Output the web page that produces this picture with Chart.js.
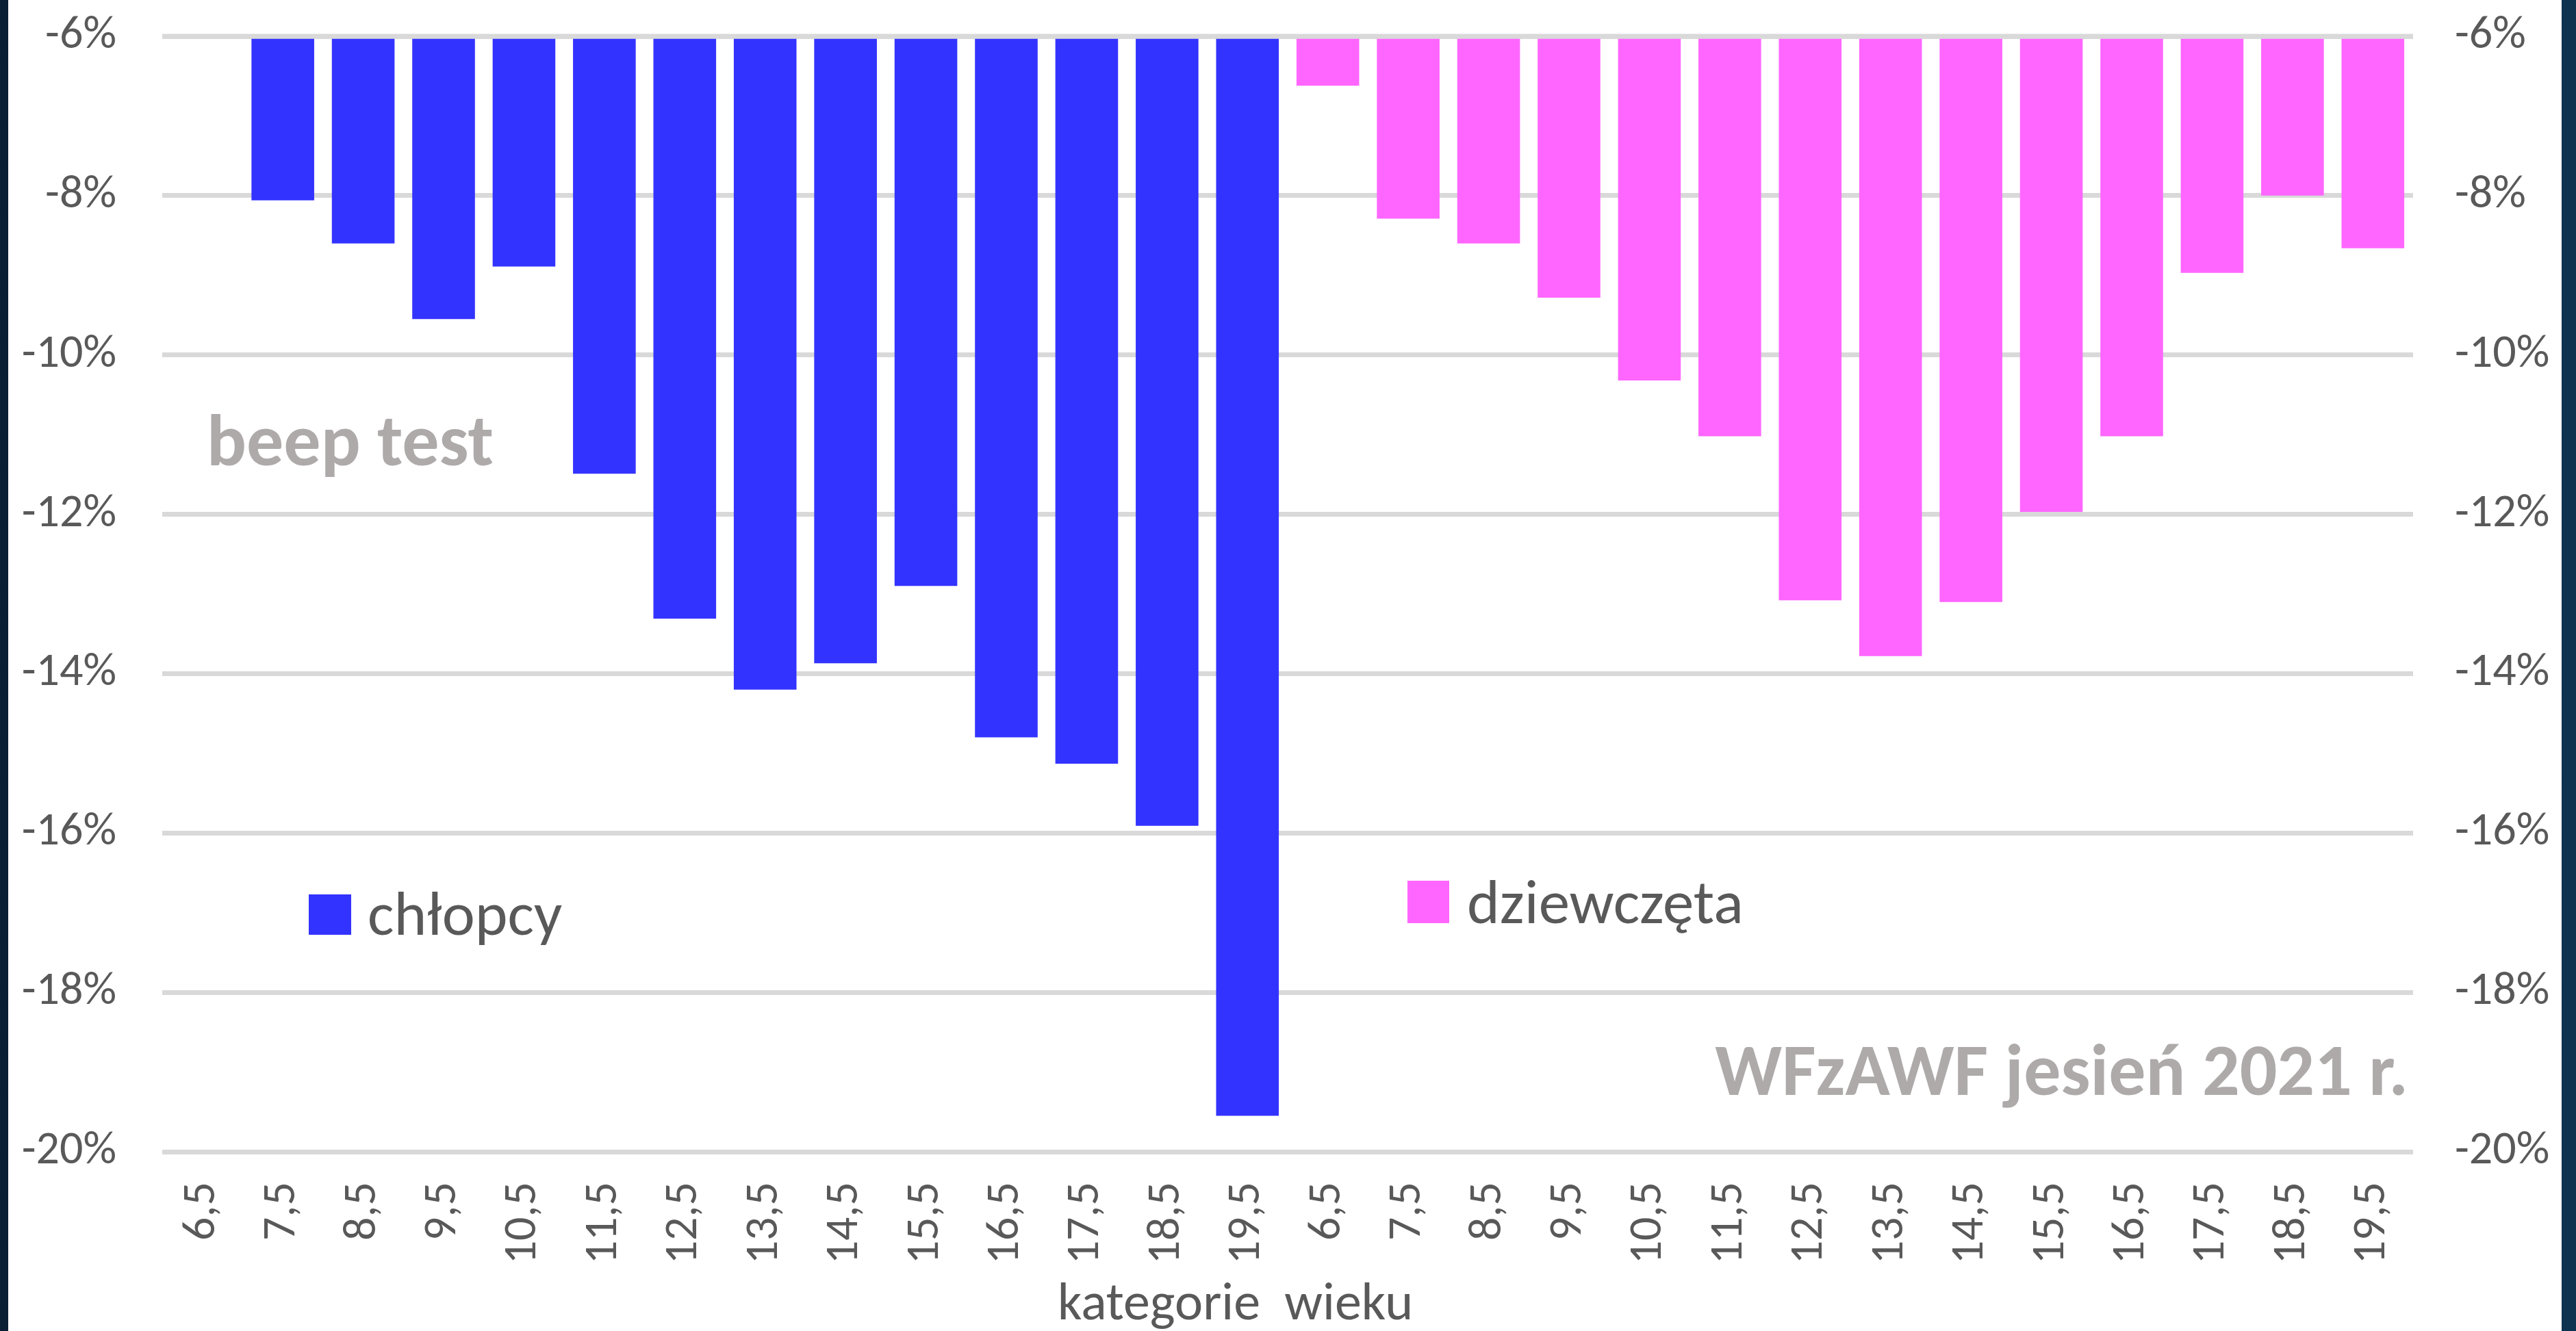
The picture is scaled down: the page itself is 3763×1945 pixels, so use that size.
<!DOCTYPE html>
<html>
<head>
<meta charset="utf-8">
<script src="https://cdn.jsdelivr.net/npm/chart.js@4.4.1/dist/chart.umd.min.js"></script>
<style>
  html, body { margin: 0; padding: 0; }
  body {
    width: 3763px; height: 1945px; overflow: hidden;
    background: linear-gradient(90deg, #0a1f33 0%, #0d3350 100%);
  }
  #wrap {
    position: absolute; left: 12px; top: 0;
    width: 3730px; height: 1945px; background: #fff;
  }
</style>
</head>
<body>
<div id="wrap"><canvas id="beepChart"></canvas></div>
<script>
// beep test — zmiana wyniku wg kategorii wieku (WFzAWF jesień 2021)

const ages = ['6,5', '7,5', '8,5', '9,5', '10,5', '11,5', '12,5', '13,5', '14,5', '15,5', '16,5', '17,5', '18,5', '19,5'];

// chłopcy: brak słupka dla 6,5
const boys  = [null, -8.06, -8.60, -9.55, -8.89, -11.49, -13.31, -14.20, -13.87, -12.90, -14.80, -15.13, -15.91, -19.55];
const girls = [-6.62, -8.29, -8.60, -9.28, -10.32, -11.02, -13.08, -13.78, -13.10, -11.97, -11.02, -8.97, -8.00, -8.66];

const yTicks = [-20, -18, -16, -14, -12, -10, -8, -6];

const COLORS = {
  boys:  '#3333ff',
  girls: '#ff66ff',
  grid:  '#d9d9d9',
  text:  '#595959',
  note:  '#aeaaaa',
};

const FONT = "Carlito, Lato, 'Open Sans', sans-serif";

const labels = ages.concat(ages);
const boysData  = boys.concat(girls.map(() => null));
const girlsData = boys.map(() => null).concat(girls);

// legenda + napisy w obszarze wykresu
const overlayPlugin = {
  id: 'overlay',
  afterDatasetsDraw(chart) {
    const { ctx, chartArea, scales } = chart;
    ctx.save();

    // górna linia osi przykrywa początek słupków
    const yTop = scales.y.getPixelForValue(-6);
    ctx.fillStyle = COLORS.grid;
    ctx.fillRect(chartArea.left, yTop - 3.5, chartArea.right - chartArea.left, 7);

    // legenda
    ctx.fillStyle = COLORS.boys;
    ctx.fillRect(439, 1307, 62, 59);
    ctx.fillStyle = COLORS.girls;
    ctx.fillRect(2044, 1287, 61, 62);

    ctx.fillStyle = COLORS.text;
    ctx.textAlign = 'left';
    ctx.textBaseline = 'alphabetic';
    ctx.font = `91px ${FONT}`;
    ctx.fillText('chłopcy', 525, 1366);
    ctx.fillText('dziewczęta', 2131, 1349);

    // tytuł osi
    ctx.font = `78px ${FONT}`;
    ctx.fillText('kategorie  wieku', 1533, 1928);

    // napisy
    ctx.fillStyle = COLORS.note;
    ctx.font = `bold 108px ${FONT}`;
    ctx.fillText('beep test', 290, 680);
    ctx.textAlign = 'right';
    ctx.fillText('WFzAWF jesień 2021 r.', 3506, 1600);

    ctx.restore();
  }
};

const tickFont = { family: FONT, size: 68 };

// stała szerokość osi, bez automatycznego marginesu na etykiety
const fixWidth = w => s => {
  s.width = w;
  s.paddingTop = 0;
  s.paddingBottom = 0;
};

new Chart(document.getElementById('beepChart').getContext('2d'), {
  type: 'bar',
  data: {
    labels,
    datasets: [
      {
        label: 'chłopcy',
        data: boysData,
        backgroundColor: COLORS.boys,
        base: -6,
        borderWidth: 0,
      },
      {
        label: 'dziewczęta',
        data: girlsData,
        backgroundColor: COLORS.girls,
        base: -6,
        borderWidth: 0,
      }
    ]
  },
  options: {
    responsive: true,
    maintainAspectRatio: false,
    animation: false,
    layout: { padding: { top: 53, left: 0, right: 0, bottom: 0 } },
    datasets: {
      bar: { grouped: false, categoryPercentage: 1, barPercentage: 0.78 }
    },
    plugins: {
      legend: { display: false },
      tooltip: { enabled: false },
    },
    scales: {
      x: {
        grid: { display: false, drawTicks: false },
        border: { display: false },
        ticks: {
          color: COLORS.text,
          font: tickFont,
          minRotation: 90,
          maxRotation: 90,
          autoSkip: false,
          padding: 44,
        },
        afterFit: s => {
          s.height = 262;
          s.paddingLeft = 0;
          s.paddingRight = 0;
        },
      },
      y: {
        position: 'left',
        min: -20, max: -6,
        afterBuildTicks: s => { s.ticks = yTicks.map(v => ({ value: v })); },
        grid: { color: COLORS.grid, lineWidth: 7, drawTicks: false },
        border: { display: false },
        ticks: {
          color: COLORS.text,
          font: tickFont,
          padding: 67,
          callback: v => v + '%',
        },
        afterFit: fixWidth(225),
      },
      y2: {
        position: 'right',
        min: -20, max: -6,
        afterBuildTicks: s => { s.ticks = yTicks.map(v => ({ value: v })); },
        grid: { display: false, drawTicks: false },
        border: { display: false },
        ticks: {
          color: COLORS.text,
          font: tickFont,
          padding: 61,
          callback: v => v + '%',
        },
        afterFit: fixWidth(217),
      }
    }
  },
  plugins: [overlayPlugin]
});
</script>
</body>
</html>
